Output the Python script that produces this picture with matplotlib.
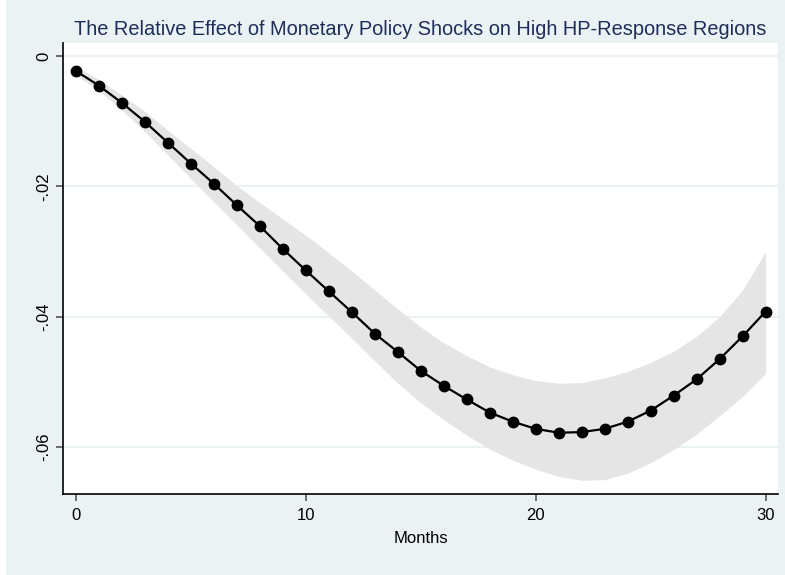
import matplotlib
matplotlib.use('Agg')
import matplotlib.pyplot as plt
from matplotlib.patches import Rectangle

plt.rcParams['font.family'] = ['Liberation Sans', 'DejaVu Sans']

# Impulse response, months 0..30
months = list(range(31))
effect = [-0.0023, -0.00455, -0.0072, -0.0101, -0.0133, -0.0165, -0.0196, -0.0229,
          -0.0261, -0.0296, -0.0329, -0.0361, -0.0393, -0.0426, -0.0454, -0.0483,
          -0.0506, -0.0527, -0.0547, -0.0561, -0.0572, -0.0578, -0.0577, -0.0572,
          -0.0561, -0.0544, -0.0521, -0.0496, -0.0465, -0.0430, -0.0392]
ci_upper = [-0.0016, -0.0036, -0.0060, -0.0085, -0.0114, -0.0142, -0.0170, -0.0199,
            -0.0225, -0.0250, -0.0275, -0.0302, -0.0330, -0.0359, -0.0388, -0.0416,
            -0.0440, -0.0460, -0.0477, -0.0489, -0.0498, -0.0502, -0.0501, -0.0494,
            -0.0484, -0.0470, -0.0453, -0.0430, -0.0400, -0.0359, -0.0300]
ci_lower = [-0.0030, -0.0053, -0.0083, -0.0116, -0.0152, -0.0188, -0.0224, -0.0259,
            -0.0295, -0.0330, -0.0365, -0.0399, -0.0433, -0.0468, -0.0502, -0.0532,
            -0.0558, -0.0582, -0.0603, -0.0620, -0.0634, -0.0645, -0.0651, -0.0650,
            -0.0640, -0.0624, -0.0604, -0.0580, -0.0552, -0.0522, -0.0487]
yticks = [0, -0.02, -0.04, -0.06]
ytick_labels = ['0', '-.02', '-.04', '-.06']
xticks = [0, 10, 20, 30]

bg = '#eaf2f3'
fig = plt.figure(figsize=(7.85, 5.75), dpi=100, facecolor=bg)
# thin white strip on the left edge, as in the Stata export
fig.patches.append(Rectangle((0, 0), 6 / 785, 1, transform=fig.transFigure,
                             facecolor='white', edgecolor='none', zorder=0))
ax = fig.add_axes([63 / 785, 81 / 575, 715 / 785, 451 / 575])
ax.set_facecolor('white')

ax.fill_between(months, ci_lower, ci_upper, color='#e5e5e5', lw=0, zorder=1)
ax.plot(months, effect, color='black', lw=1.6, marker='o', markersize=7.5, zorder=3)

ax.set_xlim(-0.566, 30.54)
ax.set_ylim(-0.0672, 0.002)
ax.set_yticks(yticks)
ax.set_yticklabels(ytick_labels, rotation=90, va='center')
ax.set_xticks(xticks)
ax.tick_params(axis='both', labelsize=12, length=5, width=1.2, color='#555555',
               labelcolor='black')
ax.tick_params(axis='x', pad=5)
ax.grid(axis='y', color=bg, lw=1.5, zorder=0)
ax.set_axisbelow(True)

for s in ['top', 'right']:
    ax.spines[s].set_visible(False)
ax.spines['left'].set_linewidth(1.2)
ax.spines['bottom'].set_linewidth(1.2)

ax.set_xlabel('Months', fontsize=12, labelpad=6)
ax.set_title('The Relative Effect of Monetary Policy Shocks on High HP-Response Regions',
             fontsize=14.4, color='#1e2d5a', pad=6)

fig.savefig('out.png', dpi=100, facecolor=bg)
